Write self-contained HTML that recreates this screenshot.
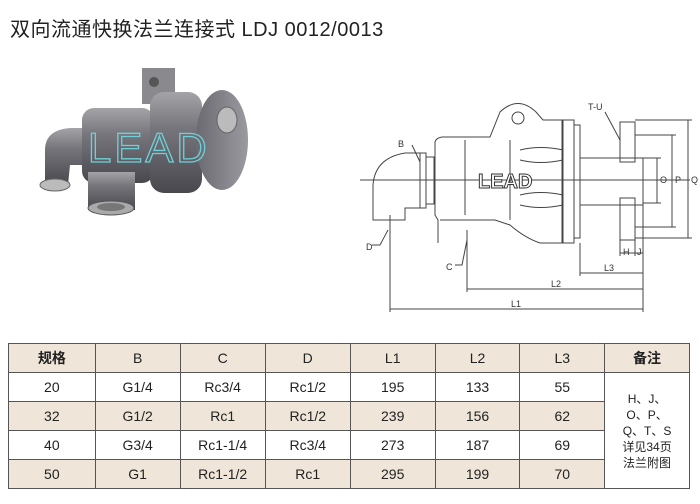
<!DOCTYPE html>
<html><head><meta charset="utf-8"><style>
body{margin:0;width:700px;height:504px;background:#fff;position:relative;overflow:hidden;font-family:"Liberation Sans","Noto Sans CJK SC",sans-serif}
.t{position:absolute;left:10px;top:13px;font-size:20px;color:#222;letter-spacing:0.5px}
table{position:absolute;left:8px;top:343px;border-collapse:collapse;width:682px}
td{border:1.5px solid #555;height:28px;text-align:center;font-size:14px;color:#222;padding:0;width:85px}
tr.s td{background:#efe6d9}
</style></head><body>
<div class="t">双向流通快换法兰连接式 LDJ 0012/0013</div>
<svg width="700" height="340" style="position:absolute;left:0;top:0">
<defs>
<linearGradient id="g" x1="0" y1="0" x2="0" y2="1"><stop offset="0" stop-color="#a4a4a8"/><stop offset="0.35" stop-color="#76767c"/><stop offset="1" stop-color="#48484e"/></linearGradient>
<linearGradient id="g2" x1="0" y1="0" x2="1" y2="0"><stop offset="0" stop-color="#6a6a70"/><stop offset="1" stop-color="#9a9aa0"/></linearGradient>
</defs>
<path d="M45 185 L45 150 Q45 130 70 128 L90 128 L90 165 L70 165 L68 185 Z" fill="url(#g)"/>
<ellipse cx="55" cy="185" rx="15" ry="6" fill="#bbb" stroke="#666"/>
<rect x="142" y="68" width="33" height="36" fill="#8a8a8e"/><circle cx="154" cy="82" r="5" fill="#555"/>
<rect x="82" y="108" width="72" height="75" rx="12" fill="url(#g)"/>
<rect x="88" y="172" width="47" height="38" fill="url(#g)"/>
<ellipse cx="111" cy="208" rx="23" ry="7" fill="#aaa" stroke="#555"/>
<ellipse cx="111" cy="207" rx="14" ry="4" fill="#777"/>
<rect x="150" y="92" width="52" height="101" rx="14" fill="url(#g)"/>
<ellipse cx="222" cy="140" rx="26" ry="50" fill="url(#g2)"/>
<ellipse cx="227" cy="120" rx="10" ry="13" fill="#bbb" stroke="#666"/>
<text x="88" y="162" font-size="42" font-family="Liberation Sans" fill="none" stroke="#6fd0d8" stroke-width="1.3" letter-spacing="3">LEAD</text>
<g fill="none" stroke="#444" stroke-width="1">
<line x1="360" y1="180" x2="690" y2="180"/>
<path d="M373 220 L373 185 Q375 158 405 153 L420 153 L420 208 L405 208 L405 220 Z"/>
<rect x="420" y="153" width="6" height="55"/><rect x="426" y="157" width="8" height="47"/>
<path d="M438 243 L438 220 L435 215 L435 142 Q436 138 442 137 L490 137 L500 112 Q518 95 536 112 L543 120 L563 120 L563 243 L540 243 Q525 238 510 225 L495 220 L440 220"/>
<circle cx="518" cy="118" r="6"/>
<line x1="465" y1="140" x2="465" y2="215"/><line x1="510" y1="140" x2="510" y2="220"/>
<rect x="562" y="120" width="12" height="123"/><rect x="574" y="125" width="6" height="113"/>
<path d="M520 150 Q540 145 563 150 M520 160 Q540 165 563 160 M520 195 Q540 190 563 195 M520 205 Q540 210 563 205"/>
<rect x="580" y="158" width="63" height="47"/>
<rect x="620" y="122" width="15" height="40"/><rect x="620" y="198" width="15" height="42"/>
<line x1="390" y1="215" x2="390" y2="312"/><line x1="467" y1="230" x2="467" y2="292"/><line x1="580" y1="243" x2="580" y2="276"/><line x1="643" y1="205" x2="643" y2="312"/>
<line x1="390" y1="309" x2="643" y2="309"/><line x1="467" y1="289" x2="643" y2="289"/><line x1="580" y1="273" x2="643" y2="273"/>
<line x1="620" y1="253" x2="643" y2="253"/><line x1="620" y1="240" x2="620" y2="256"/><line x1="635" y1="240" x2="635" y2="256"/>
<line x1="688" y1="120" x2="688" y2="238"/><line x1="635" y1="120" x2="692" y2="120"/><line x1="635" y1="238" x2="692" y2="238"/>
<line x1="672" y1="135" x2="672" y2="227"/><line x1="635" y1="135" x2="676" y2="135"/><line x1="635" y1="227" x2="676" y2="227"/>
<line x1="657" y1="158" x2="657" y2="203"/><line x1="643" y1="158" x2="661" y2="158"/><line x1="643" y1="203" x2="661" y2="203"/>
<path d="M412 145 L420 162 M388 230 L380 245 L372 245 M467 240 L462 265 L455 265 M605 112 L620 140"/>
</g>
<text x="478" y="188" font-size="20" font-weight="bold" fill="#fff" stroke="#333" stroke-width="1">LEAD</text>
<g font-size="9" fill="#333" font-family="Liberation Sans">
<text x="398" y="147">B</text><text x="366" y="250">D</text><text x="446" y="270">C</text><text x="588" y="110">T-U</text>
<text x="511" y="307">L1</text><text x="551" y="287">L2</text><text x="604" y="271">L3</text><text x="623" y="255">H</text><text x="637" y="255">J</text>
<text x="660" y="183">O</text><text x="675" y="183">P</text><text x="691" y="183">Q</text>
</g>
</svg>
<table>
<tr class="s"><td style="width:87px;font-weight:bold">规格</td><td>B</td><td>C</td><td>D</td><td>L1</td><td>L2</td><td>L3</td><td style="font-weight:bold">备注</td></tr>
<tr><td>20</td><td>G1/4</td><td>Rc3/4</td><td>Rc1/2</td><td>195</td><td>133</td><td>55</td><td rowspan="4" style="background:#fff;font-size:12px;line-height:16px">H、J、<br>O、P、<br>Q、T、S<br>详见34页<br>法兰附图</td></tr>
<tr class="s"><td>32</td><td>G1/2</td><td>Rc1</td><td>Rc1/2</td><td>239</td><td>156</td><td>62</td></tr>
<tr><td>40</td><td>G3/4</td><td>Rc1-1/4</td><td>Rc3/4</td><td>273</td><td>187</td><td>69</td></tr>
<tr class="s"><td>50</td><td>G1</td><td>Rc1-1/2</td><td>Rc1</td><td>295</td><td>199</td><td>70</td></tr>
</table>
</body></html>
